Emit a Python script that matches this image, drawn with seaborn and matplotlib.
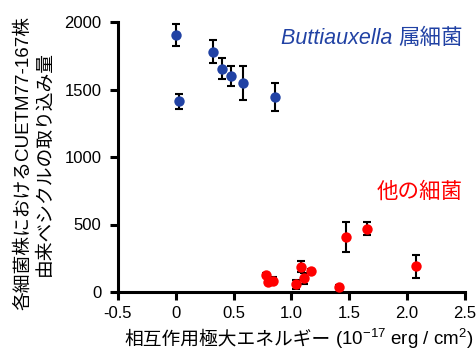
import matplotlib
matplotlib.use("Agg")
import matplotlib.pyplot as plt
import seaborn as sns
import pandas as pd

# Data
blue_x = [0.00, 0.025, 0.325, 0.40, 0.475, 0.58, 0.855]
blue_y = [1902, 1412, 1779, 1655, 1598, 1546, 1445]
blue_err = [80, 55, 85, 80, 75, 125, 105]

red_x = [0.783, 0.797, 0.84, 1.04, 1.085, 1.105, 1.167, 1.41, 1.47, 1.65, 2.075]
red_y = [126, 76, 84, 57, 188, 101, 158, 40, 408, 467, 190]
red_err = [15, 15, 25, 35, 38, 40, 10, 10, 110, 48, 87]

x_ticks = [-0.5, 0, 0.5, 1.0, 1.5, 2.0, 2.5]
x_ticklabels = ["-0.5", "0", "0.5", "1.0", "1.5", "2.0", "2.5"]
y_ticks = [0, 500, 1000, 1500, 2000]

BLUE = "#2142A4"
RED = "#FF0000"
FAM = ["Liberation Sans", "Noto Sans CJK JP"]

sns.set_theme(style="ticks")
plt.rcParams["font.family"] = FAM
plt.rcParams["mathtext.fontset"] = "custom"
plt.rcParams["mathtext.rm"] = "Liberation Sans"
plt.rcParams["mathtext.it"] = "Liberation Sans:italic"
plt.rcParams["axes.unicode_minus"] = False

W, H = 477, 352
fig = plt.figure(figsize=(W / 100, H / 100), dpi=100)
ax = fig.add_axes([118 / W, 1 - 292 / H, (465 - 118) / W, (292 - 22) / H])

df_b = pd.DataFrame({"x": blue_x, "y": blue_y, "err": blue_err})
df_r = pd.DataFrame({"x": red_x, "y": red_y, "err": red_err})

for df in (df_b, df_r):
    ax.errorbar(df["x"], df["y"], yerr=df["err"], fmt="none", ecolor="black",
                elinewidth=1.5, capsize=2.8, capthick=1.5, zorder=2, clip_on=False)

sns.scatterplot(data=df_b, x="x", y="y", color=BLUE, s=56, linewidth=0,
                ax=ax, zorder=3, clip_on=False)
sns.scatterplot(data=df_r, x="x", y="y", color=RED, s=56, linewidth=0,
                ax=ax, zorder=3, clip_on=False)

ax.set_xlim(-0.5, 2.5)
ax.set_ylim(0, 2000)
ax.set_xticks(x_ticks)
ax.set_xticklabels(x_ticklabels)
ax.set_yticks(y_ticks)
ax.set_xlabel("")
ax.set_ylabel("")

for s in ("top", "right"):
    ax.spines[s].set_visible(False)
for s in ("left", "bottom"):
    ax.spines[s].set_linewidth(2.2)
    ax.spines[s].set_color("black")
ax.tick_params(axis="both", length=6, width=2.2, color="black", labelsize=12,
               labelcolor="black")
ax.tick_params(axis="x", pad=4)
ax.tick_params(axis="y", pad=6)

fig.text(34.5 / W, 1 - 163 / H,
         "各細菌株におけるCUETM77-167株\n由来ベシクルの取り込み量",
         rotation=90, ha="center", va="center", multialignment="center",
         fontsize=13.5, linespacing=1.3, color="black")

fig.canvas.draw()
r = fig.canvas.get_renderer()

# x label: CJK part + mathtext part, on one baseline, centred
XB = 1 - 345 / H
xl1 = fig.text(0, XB, "相互作用極大エネルギー", ha="left", va="baseline",
               fontsize=13.5, color="black")
xl2 = fig.text(0, XB, " (10$^{-17}$ erg / cm$^{2}$)", ha="left",
               va="baseline", fontsize=13.5, color="black")
w1 = xl1.get_window_extent(r).width
w2 = xl2.get_window_extent(r).width
x0 = 299 - (w1 + w2) / 2
xl1.set_x(x0 / W)
xl2.set_x((x0 + w1) / W)

# Blue annotation: italic genus + CJK
b2 = fig.text(463 / W, 1 - 44 / H, "属細菌", ha="right", va="baseline",
              fontsize=15.5, color=BLUE)
wb2 = b2.get_window_extent(r).width
fig.text((463 - wb2) / W, 1 - 44 / H, "Buttiauxella ", ha="right", va="baseline",
         fontsize=15.5, color=BLUE, style="italic")

fig.text(463 / W, 1 - 198 / H, "他の細菌",
         ha="right", va="baseline", fontsize=15.5, color=RED)

fig.savefig("out.png", dpi=100)
